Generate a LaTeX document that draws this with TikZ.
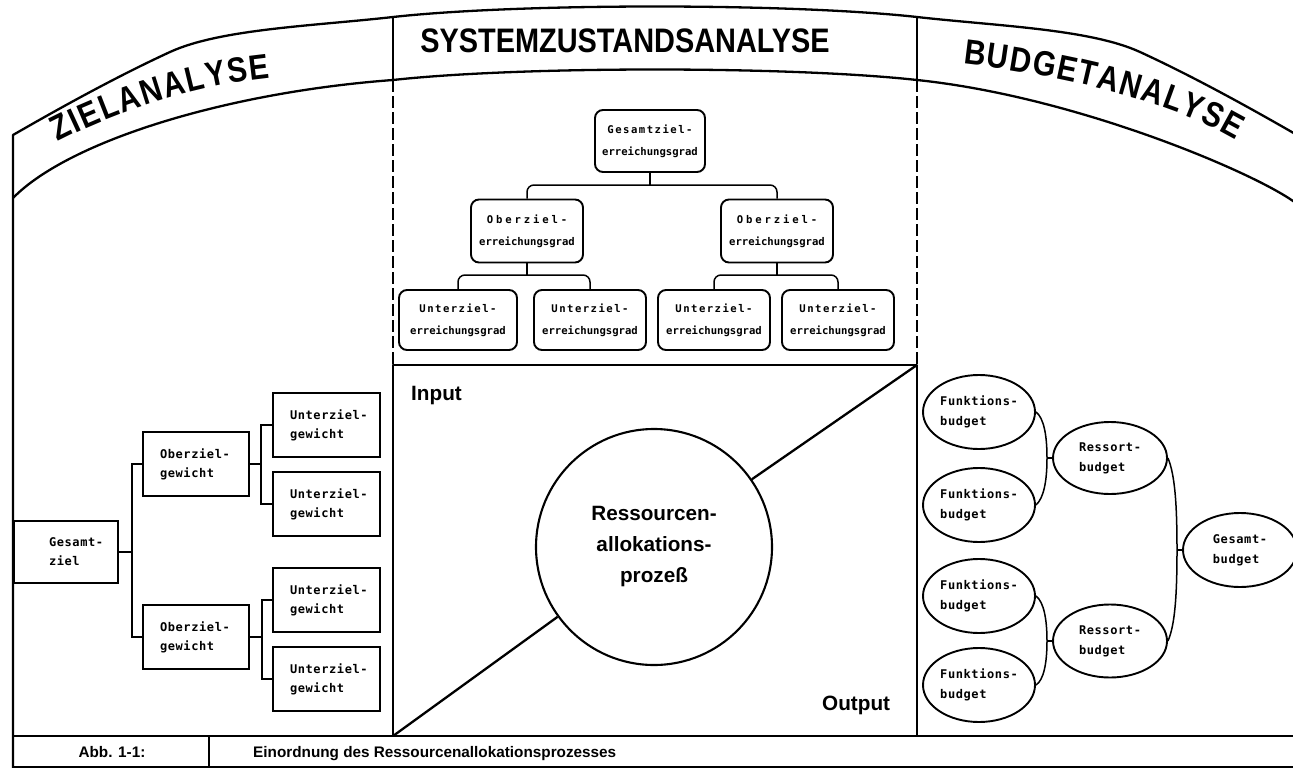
\documentclass[tikz,border=0pt]{standalone}
\usepackage{fontspec}
\setmainfont{Liberation Sans}
\newfontfamily\hdfont[FakeStretch=0.85]{Liberation Sans}
\newfontfamily\monoA{DejaVu Sans Mono}
\newfontfamily\monoB[LetterSpace=14]{DejaVu Sans Mono}
\newfontfamily\monoC[LetterSpace=27]{DejaVu Sans Mono}
\newfontfamily\monoL[LetterSpace=5]{DejaVu Sans Mono}
\usetikzlibrary{shapes.geometric,decorations.text,calc}
\hyphenpenalty=10000
\exhyphenpenalty=10000
\tikzset{
  outline/.style={line width=2.3pt, line join=round},
  divider/.style={line width=1.6pt, dash pattern=on 12pt off 4pt},
  conn/.style={line width=1.5pt},
  rconn/.style={line width=1.5pt, rounded corners=7pt},
  midbox/.style={draw, line width=1.9pt, rounded corners=8pt, minimum width=112pt, minimum height=62pt, inner sep=0pt, align=center, font=\monoA\bfseries\fontsize{10.6}{22}\selectfont},
  leftbox/.style={draw, line width=2.1pt, minimum height=64pt, text width=73pt, inner xsep=17pt, inner ysep=0pt, align=left, font=\monoL\bfseries\fontsize{12}{19}\selectfont},
  budell/.style={draw, ellipse, line width=1.9pt, minimum width=112pt, minimum height=74pt, inner sep=0pt, align=left, font=\monoL\bfseries\fontsize{12}{20}\selectfont},
  bigtxt/.style={font=\bfseries\fontsize{20.7}{31}\selectfont, inner sep=0pt},
  captxt/.style={font=\bfseries\fontsize{15.3}{18}\selectfont, inner sep=0pt},
  headtxt/.style={font=\hdfont\bfseries\fontsize{34}{34}\selectfont, inner sep=0pt},
}
\begin{document}
\begin{tikzpicture}[x=1pt,y=-1pt]
\useasboundingbox (0,0) rectangle (1293,768);

% ---------- frame and header band ----------
\draw[outline] (13,768) -- (13,135)
  .. controls (65,105) and (120,75) .. (170,52)
  .. controls (220,29) and (313,26) .. (393,17)
  .. controls (520,3) and (790,3) .. (917,17)
  .. controls (997,26) and (1090,29) .. (1140,52)
  .. controls (1190,75) and (1245,105) .. (1297,135);
\draw[outline] (13,198)
  .. controls (70,140) and (230,92) .. (393,80)
  .. controls (520,66) and (790,66) .. (917,80)
  .. controls (1080,97) and (1262,176) .. (1297,204);

% section dividers
\draw[outline] (393,17) -- (393,80);
\draw[outline] (917,17) -- (917,80);
\draw[divider] (393,80) -- (393,365);
\draw[divider] (917,80) -- (917,365);

% header texts
\path[decorate, decoration={text along path, text={|\hdfont\bfseries\fontsize{35}{35}\selectfont|ZIELANALYSE}, text align=fit to path}]
  (58,142) .. controls (110,115) and (190,86) .. (270,78);
\node[headtxt] (hsys) at (625,41) {SYSTEMZUSTANDSANALYSE};
\path[decorate, decoration={text along path, text={|\hdfont\bfseries\fontsize{35}{35}\selectfont|BUDGETANALYSE}, text align=fit to path}]
  (963,64) .. controls (1050,74) and (1165,98) .. (1236,140);

% ---------- process box ----------
\draw[outline] (393,365) rectangle (917,736);
\draw[outline] (13,736) -- (1300,736);
\coordinate (pBL) at (393,736);
\coordinate (pTR) at (917,365);
\node[draw, circle, line width=2.1pt, minimum size=236pt, inner sep=0pt, align=center, font=\bfseries\fontsize{20.7}{31}\selectfont] (proc) at (654,547) {Ressourcen-\\allokations-\\prozeß};
\draw[outline] (pBL) -- (proc);
\draw[outline] (proc) -- (pTR);
\node[bigtxt, anchor=base west] (inp) at (411,400) {Input};
\node[bigtxt, anchor=base west] (outp) at (822,710) {Output};

% ---------- caption ----------
\draw[outline] (13,767) -- (1300,767);
\draw[outline] (209,736) -- (209,767);
\node[captxt, anchor=base] (abb) at (112,757) {Abb. 1-1:};
\node[captxt, anchor=base west] (cap) at (253,757) {Einordnung des Ressourcenallokationsprozesses};

% ---------- middle tree ----------
\node[midbox, minimum width=110pt] (T) at (650,141) {{\monoB Gesamtziel-}\\erreichungsgrad};
\node[midbox, minimum height=63pt] (ML) at (527,231) {{\monoC Oberziel-}\\erreichungsgrad};
\node[midbox, minimum height=63pt] (MR) at (777,231) {{\monoC Oberziel-}\\erreichungsgrad};
\node[midbox, minimum width=118pt, minimum height=60pt] (B1) at (458,320) {{\monoB Unterziel-}\\erreichungsgrad};
\node[midbox, minimum height=60pt] (B2) at (590,320) {{\monoB Unterziel-}\\erreichungsgrad};
\node[midbox, minimum height=60pt] (B3) at (714,320) {{\monoB Unterziel-}\\erreichungsgrad};
\node[midbox, minimum height=60pt] (B4) at (838,320) {{\monoB Unterziel-}\\erreichungsgrad};
\coordinate (t1) at (650,185);
\coordinate (m1) at (527,275);
\coordinate (m2) at (777,275);
\draw[conn] (T.south) -- (t1);
\draw[rconn] (ML.north) |- (t1) -| (MR.north);
\draw[conn] (ML.south) -- (m1);
\draw[rconn] (B1.north) |- (m1) -| (B2.north);
\draw[conn] (MR.south) -- (m2);
\draw[rconn] (B3.north) |- (m2) -| (B4.north);

% ---------- left tree ----------
\node[leftbox, text width=34pt, inner xsep=35pt, minimum height=62pt] (G) at (66,552) {Gesamt-\\ziel};
\node[leftbox, text width=72pt] (O1) at (196,464) {Oberziel-\\gewicht};
\node[leftbox, text width=72pt] (O2) at (196,637) {Oberziel-\\gewicht};
\node[leftbox] (U1) at (326.5,425) {Unterziel-\\gewicht};
\node[leftbox] (U2) at (326.5,504) {Unterziel-\\gewicht};
\node[leftbox] (U3) at (326.5,600) {Unterziel-\\gewicht};
\node[leftbox] (U4) at (326.5,679) {Unterziel-\\gewicht};
\coordinate (g1) at (132,552);
\coordinate (o1) at (261,464);
\coordinate (o2) at (262,637);
\draw[conn] (G.east) -- (g1);
\draw[conn] (O1.west) -| (g1) |- (O2.west);
\draw[conn] (O1.east) -- (o1);
\draw[conn] (U1.west) -| (o1) |- (U2.west);
\draw[conn] (O2.east) -- (o2);
\draw[conn] (U3.west) -| (o2) |- (U4.west);

% ---------- right tree ----------
\node[budell] (F1) at (979,412) {Funktions-\\budget};
\node[budell] (F2) at (979,505) {Funktions-\\budget};
\node[budell] (F3) at (979,596) {Funktions-\\budget};
\node[budell] (F4) at (979,685) {Funktions-\\budget};
\node[budell, minimum width=114pt, minimum height=72pt] (R1) at (1110,458) {Ressort-\\budget};
\node[budell, minimum width=114pt, minimum height=73pt] (R2) at (1110,641) {Ressort-\\budget};
\node[budell, minimum width=114pt] (GB) at (1240,550) {Gesamt-\\budget};
\coordinate (j1) at (1047,458);
\coordinate (j2) at (1047,641);
\coordinate (j3) at (1177,550);
\draw[conn] (F1.east) .. controls (1044,418) and (1047,436) .. (j1) .. controls (1047,480) and (1044,498) .. (F2.east);
\draw[conn] (j1) -- (R1.west);
\draw[conn] (F3.east) .. controls (1044,602) and (1047,620) .. (j2) .. controls (1047,662) and (1044,680) .. (F4.east);
\draw[conn] (j2) -- (R2.west);
\draw[conn] (R1.east) .. controls (1175,475) and (1177,505) .. (j3) .. controls (1177,595) and (1175,625) .. (R2.east);
\draw[conn] (j3) -- (GB.west);
\end{tikzpicture}
\end{document}
